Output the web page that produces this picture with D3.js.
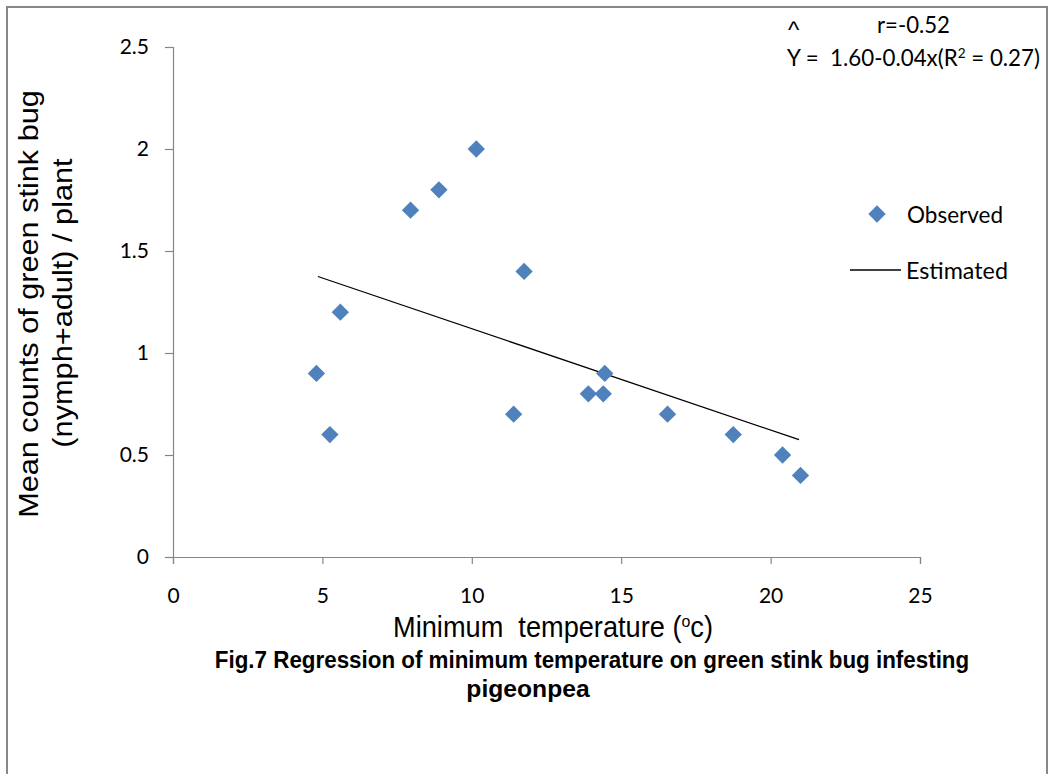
<!DOCTYPE html>
<html>
<head>
<meta charset="utf-8">
<script src="https://cdn.jsdelivr.net/npm/d3@7"></script>
<style>
  body { margin: 0; background: #fff; }
  svg { display: block; }
</style>
</head>
<body>
<div class="chart"></div>
<script>
(function(){

// observed points
var tempMin = [4.8, 5.25, 5.6, 7.95, 8.9, 10.15, 11.4, 11.75, 13.9, 14.4, 14.45, 16.55, 18.75, 20.4, 21.0];
var bugCount = [0.9, 0.6, 1.2, 1.7, 1.8, 2.0, 0.7, 1.4, 0.8, 0.8, 0.9, 0.7, 0.6, 0.5, 0.4];

// estimated (regression) line end points
var estX = [4.85, 20.95];
var estY = [1.375, 0.575];

var xTicks = [0, 5, 10, 15, 20, 25];
var yTicks = [0, 0.5, 1, 1.5, 2, 2.5];

var width = 1049,
    height = 774;

var svg = d3.select(".chart")
    .append("svg")
    .attr("width", width)
    .attr("height", height);

// outer frame
svg.append("rect")
    .attr("x", 7).attr("y", 7)
    .attr("width", 1040).attr("height", 800)
    .attr("fill", "none")
    .attr("stroke", "#888")
    .attr("stroke-width", 2);

var x = d3.scaleLinear().domain([0, 25]).range([173, 920]);
var y = d3.scaleLinear().domain([0, 2.5]).range([557, 47]);

var calib = "Lato, 'Open Sans', sans-serif";
var arial = "'Liberation Sans', Arial, sans-serif";

// squeeze a text horizontally (in its own frame) to a target width
function squeeze(txt, target){
    var w = txt.node().getBBox().width;
    txt.attr("transform", "scale(" + (target / w) + ",1)");
}

// place a text inside a group, then fit its width
function label(px, py, str, font, size, target, anchor, weight){
    var g = svg.append("g").attr("transform", "translate(" + px + "," + py + ")");
    var t = g.append("text")
        .attr("text-anchor", anchor || "start")
        .style("font-family", font)
        .style("font-size", size + "px")
        .style("font-weight", weight || "normal")
        .text(str);
    if (target) squeeze(t, target);
    return t;
}

// y axis
var yAxis = svg.append("g")
    .attr("transform", "translate(" + x(0) + ",0)")
    .call(d3.axisLeft(y).tickValues(yTicks).tickSize(8).tickPadding(16)
        .tickFormat(function(d){ return String(d); }));
// x axis
var xAxis = svg.append("g")
    .attr("transform", "translate(0," + y(0) + ")")
    .call(d3.axisBottom(x).tickValues(xTicks).tickSize(7).tickPadding(24));

[xAxis, yAxis].forEach(function(g){
    g.select(".domain").attr("stroke", "#868686").attr("stroke-width", 1.2);
    g.selectAll(".tick line").attr("stroke", "#868686").attr("stroke-width", 1.2);
    g.selectAll(".tick text")
        .attr("fill", "#000")
        .style("font-family", calib)
        .style("font-size", "21px");
});

// regression line
var line = d3.line()
    .x(function(d){ return x(d[0]); })
    .y(function(d){ return y(d[1]); });

svg.append("path")
    .datum(d3.zip(estX, estY))
    .attr("d", line)
    .attr("fill", "none")
    .attr("stroke", "#000")
    .attr("stroke-width", 1.3);

// observed diamonds
var diamond = d3.symbol().type(d3.symbolSquare).size(150);
svg.selectAll(".pt")
    .data(d3.zip(tempMin, bugCount))
    .enter()
    .append("path")
    .attr("class", "pt")
    .attr("d", diamond)
    .attr("transform", function(d){
        return "translate(" + x(d[0]) + "," + y(d[1]) + ") rotate(45)";
    })
    .attr("fill", "#4F81BD");

// legend
svg.append("path")
    .attr("d", diamond)
    .attr("transform", "translate(877,214) rotate(45)")
    .attr("fill", "#4F81BD");
label(907, 223, "Observed", calib, 23, 96);
svg.append("line")
    .attr("x1", 850).attr("x2", 901)
    .attr("y1", 270).attr("y2", 270)
    .attr("stroke", "#000").attr("stroke-width", 1.3);
label(906, 279, "Estimated", calib, 23, 102);

// equation annotation
label(788, 38, "^", arial, 24, 12);
label(877, 33, "r=-0.52", calib, 23, 73);
var eqG = svg.append("g").attr("transform", "translate(787,66)");
var eq = eqG.append("text")
    .attr("xml:space", "preserve")
    .style("font-family", calib).style("font-size", "23px");
eq.append("tspan").text("Y =  1.60-0.04x(R");
eq.append("tspan").attr("dy", -8).style("font-size", "14px").text("2");
eq.append("tspan").attr("dy", 8).text(" = 0.27)");
squeeze(eq, 253);

// y axis title (rotated)
var ytG = svg.append("g").attr("transform", "translate(38,304) rotate(-90)");
var yt1 = ytG.append("text")
    .attr("text-anchor", "middle")
    .style("font-family", arial).style("font-size", "27px")
    .text("Mean counts of green stink bug");
squeeze(yt1, 428);
var ytG2 = svg.append("g").attr("transform", "translate(72,303) rotate(-90)");
var yt2 = ytG2.append("text")
    .attr("text-anchor", "middle")
    .style("font-family", arial).style("font-size", "27px")
    .text("(nymph+adult) / plant");
squeeze(yt2, 290);

// x axis title
var xtG = svg.append("g").attr("transform", "translate(553,637)");
var xt = xtG.append("text")
    .attr("text-anchor", "middle")
    .attr("xml:space", "preserve")
    .style("font-family", arial).style("font-size", "29px");
xt.append("tspan").text("Minimum  temperature (");
xt.append("tspan").attr("dy", -10).style("font-size", "17px").text("o");
xt.append("tspan").attr("dy", 10).text("c)");
squeeze(xt, 320);

// caption
label(592, 668, "Fig.7 Regression of minimum temperature on green stink bug infesting", arial, 24, 755, "middle", "bold");
label(528, 697, "pigeonpea", arial, 24, 124, "middle", "bold");

})();
</script>
</body>
</html>
